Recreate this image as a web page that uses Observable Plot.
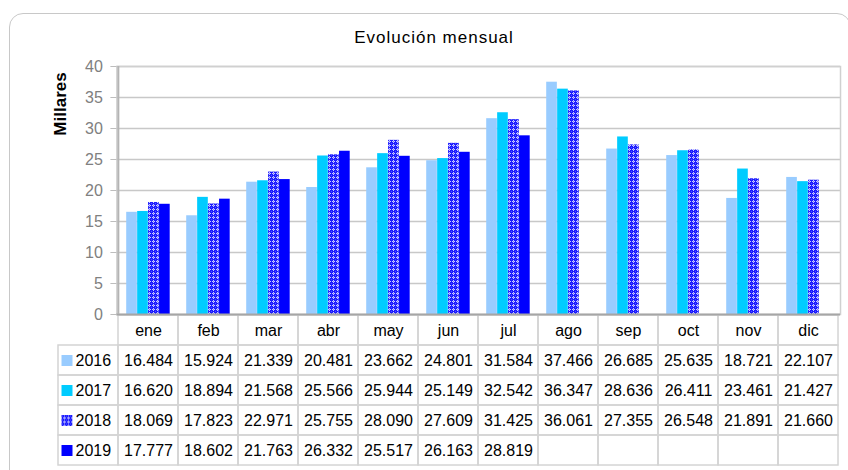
<!DOCTYPE html>
<html><head><meta charset="utf-8">
<script src="https://cdn.jsdelivr.net/npm/d3@7"></script>
<script src="https://cdn.jsdelivr.net/npm/@observablehq/plot@0.6"></script>
<style>
body{margin:0;background:#fff;font-family:"Liberation Sans",Arial,sans-serif;}
#wrap{position:relative;width:848px;height:470px;overflow:hidden;}
#box{position:absolute;left:9px;top:13px;width:842px;height:480px;border:1.5px solid #c8c8c8;border-radius:14px;box-sizing:border-box;}
#title{position:absolute;left:434px;top:38px;transform:translate(-50%,-50%);font-size:17px;letter-spacing:1px;white-space:nowrap;color:#000;}
#ylab{position:absolute;left:60.5px;top:103.5px;transform:translate(-50%,-50%) rotate(-90deg);font-size:17px;font-weight:bold;white-space:nowrap;color:#000;}
#chart{position:absolute;left:0;top:0;}
#table{position:absolute;left:0;top:310px;}
</style></head>
<body>
<svg width="0" height="0" style="position:absolute"><defs>
<pattern id="pat2018" width="4" height="4" patternUnits="userSpaceOnUse">
<rect width="4" height="4" fill="#1a1aff"/>
<rect x="1" y="0" width="1" height="1" fill="#c8c8ff"/>
<rect x="0" y="1" width="1" height="1" fill="#c8c8ff"/>
<rect x="2" y="1" width="1" height="1" fill="#c8c8ff"/>
<rect x="1" y="2" width="1" height="1" fill="#c8c8ff"/>
<rect x="1" y="1" width="1" height="1" fill="#8080ff"/>
<rect x="3" y="3" width="1" height="1" fill="#5050ff"/>
</pattern></defs></svg>
<div id="wrap">
<div id="box"></div>
<div id="title">Evolución mensual</div>
<div id="ylab">Millares</div>
<div id="table"></div>
<div id="chart"></div>
</div>
<script>
const months = ["ene","feb","mar","abr","may","jun","jul","ago","sep","oct","nov","dic"];
const years = ["2016","2017","2018","2019"];
const v2016 = [16.484,15.924,21.339,20.481,23.662,24.801,31.584,37.466,26.685,25.635,18.721,22.107];
const v2017 = [16.620,18.894,21.568,25.566,25.944,25.149,32.542,36.347,28.636,26.411,23.461,21.427];
const v2018 = [18.069,17.823,22.971,25.755,28.090,27.609,31.425,36.061,27.355,26.548,21.891,21.660];
const v2019 = [17.777,18.602,21.763,26.332,25.517,26.163,28.819,null,null,null,null,null];
const yTicks = [0,5,10,15,20,25,30,35,40];
const colors = ["#99CCFF","#00CCFF","url(#pat2018)","#0000FF"];

const series = [v2016, v2017, v2018, v2019];
const data = [];
years.forEach((yr, i) => months.forEach((m, j) => {
  if (series[i][j] != null) data.push({year: yr, month: m, value: series[i][j]});
}));

const font = "'Liberation Sans', Arial, sans-serif";
const rightEdge = 840;
const colW = 60.3;
const chartLeft = rightEdge - 12 * colW;
const padOuter = 8.2, barW = 10.95;

const chart = Plot.plot({
  width: 848, height: 330,
  marginTop: 66, marginBottom: 16, marginLeft: chartLeft, marginRight: 848 - rightEdge,
  style: {background: "transparent", fontFamily: font},
  x: {domain: months, padding: 0, axis: null},
  y: {domain: [0, 40], axis: null},
  color: {domain: years, range: colors},
  marks: [
    Plot.ruleY(yTicks.slice(1), {stroke: "#c8c8c8", strokeWidth: 1.5}),
    Plot.frame({stroke: "#d0d0d0", strokeWidth: 1.5}),
    ...years.map((yr, i) => Plot.barY(data.filter(d => d.year === yr), {
      x: "month", y: "value", fill: "year",
      insetLeft: padOuter + barW * i,
      insetRight: colW - padOuter - barW * (i + 1)
    })),
    Plot.ruleY([0], {stroke: "#a6a6a6", strokeWidth: 2}),
    Plot.ruleX([months[0]], {dx: -colW / 2, stroke: "#b4b4b4", strokeWidth: 2}),
    Plot.axisY({ticks: yTicks, tickSize: 6, tickPadding: 8, fontSize: 16, color: "#808080", stroke: "#bdbdbd", label: null})
  ]
});
document.getElementById("chart").appendChild(chart);

const tableCols = ["leg", ...months];
const rows = ["hdr", ...years];
const cells = months.map(m => ({col: m, row: "hdr"}));
years.forEach(yr => tableCols.forEach(c => cells.push({col: c, row: yr})));

const table = Plot.plot({
  width: 848, height: 160,
  marginTop: 4, marginBottom: 5, marginLeft: rightEdge - 13 * colW, marginRight: 848 - rightEdge,
  style: {background: "transparent", fontFamily: font},
  x: {domain: tableCols, padding: 0, axis: null},
  y: {domain: rows, padding: 0, axis: null},
  color: {domain: years, range: colors},
  marks: [
    Plot.cell(cells, {x: "col", y: "row", fill: "none", stroke: "#d4d4d4", strokeWidth: 1.5, inset: 0}),
    Plot.text(months, {x: d => d, y: () => "hdr", text: d => d, fontSize: 16, fill: "#000"}),
    Plot.text(data, {x: "month", y: "year", text: d => d.value.toFixed(3), fontSize: 16, fill: "#000"}),
    Plot.dot(years, {x: () => "leg", y: d => d, symbol: "square", r: 6.2, fill: d => d, dx: -21.5}),
    Plot.text(years, {x: () => "leg", y: d => d, text: d => d, textAnchor: "start", dx: -13, fontSize: 16, fill: "#000"})
  ]
});
document.getElementById("table").appendChild(table);
</script>
</body></html>
